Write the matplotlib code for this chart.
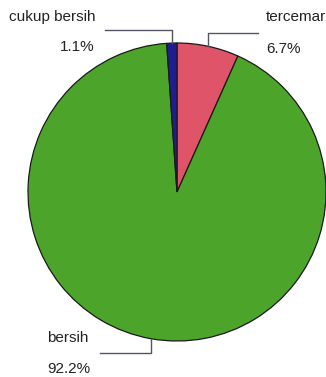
import numpy as np
import matplotlib.pyplot as plt

# data
labels = ['tercemar', 'bersih', 'cukup bersih']
values = [6.7, 92.2, 1.1]
colors = ['#df5468', '#4ca52a', '#1e1e90']

# label placement (pixel coords, y from top): text x, label y, pct y, elbow y, leader end x
text_pos = {
    'tercemar': (266, 17, 49, 33, 258),
    'bersih': (47, 338, 369, 353, 100),
    'cukup bersih': (9, 17, 47, 30, 105),
}

W, H = 326, 377
fig = plt.figure(figsize=(W / 100, H / 100), dpi=100)
ax = fig.add_axes([0, 0, 1, 1])

cx, cy, r = 177, H - 192, 149
wedges, _ = ax.pie(values, colors=colors, startangle=90, counterclock=False,
                   center=(cx, cy), radius=r, frame=True,
                   wedgeprops=dict(edgecolor='#1a1a1a', linewidth=0.9))
ax.set_xlim(0, W)
ax.set_ylim(0, H)
ax.set_aspect('equal')
ax.axis('off')

font = dict(family=['Liberation Sans', 'DejaVu Sans'], fontsize=11, color='#222222')
for w, lab, v in zip(wedges, labels, values):
    ang = np.deg2rad((w.theta1 + w.theta2) / 2)
    ex, ey = cx + r * np.cos(ang), cy + r * np.sin(ang)
    tx, ly, py, elb, hx = text_pos[lab]
    ey_line = H - elb
    ax.plot([ex, ex, hx], [ey, ey_line, ey_line], color='#555566', lw=1)
    ax.text(tx, H - ly, lab, ha='left', va='center', **font)
    if lab == 'cukup bersih':
        ax.text(77, H - py, f'{v}%', ha='center', va='center', **font)
    else:
        ax.text(tx, H - py, f'{v}%', ha='left', va='center', **font)

fig.savefig('out.png', dpi=100, facecolor='white')
